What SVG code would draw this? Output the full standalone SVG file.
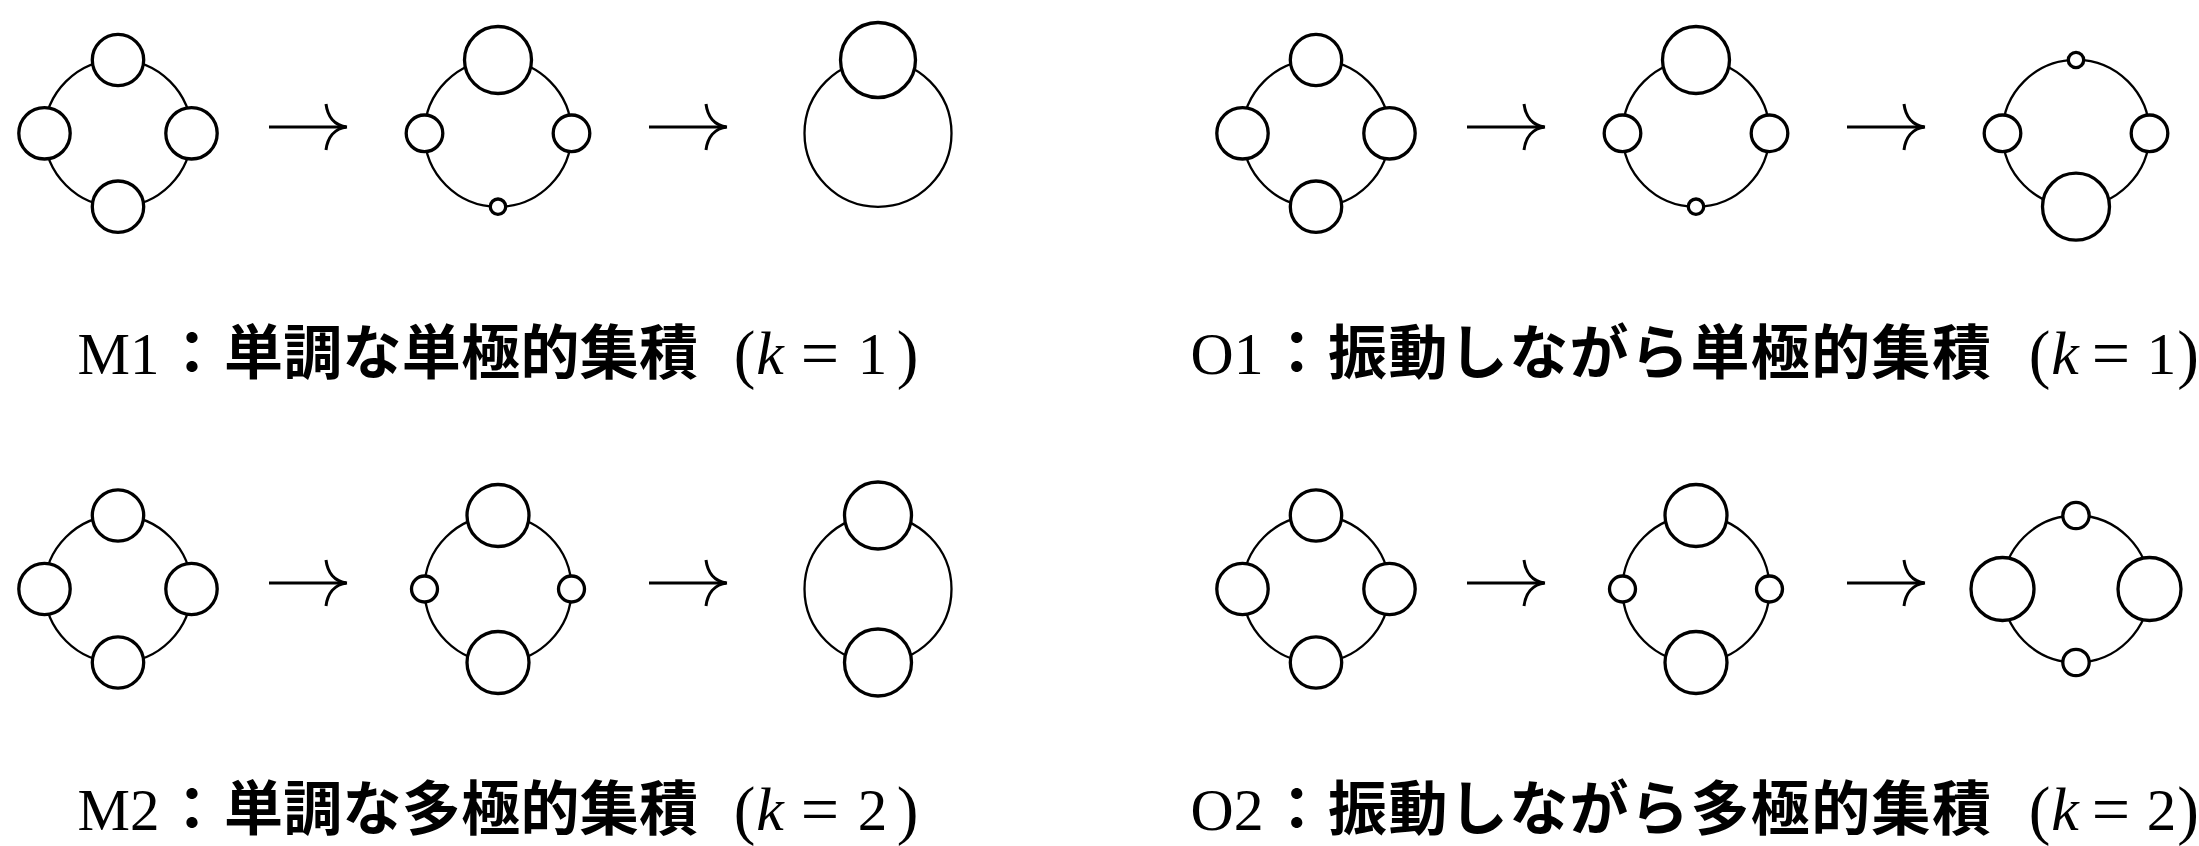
<svg xmlns="http://www.w3.org/2000/svg" xmlns:xlink="http://www.w3.org/1999/xlink" width="2199" height="846" viewBox="0 0 2199 846">
<style>
.ring{fill:none;stroke:#000;stroke-width:2.3}
.nd{fill:#fff;stroke:#000;stroke-width:3.3}
.arr{fill:none;stroke:#000;stroke-width:3}
.lat{font-family:"Liberation Serif",serif;font-size:59px;fill:#000}
.math{font-family:"Liberation Serif",serif;font-size:59px;fill:#000;text-anchor:middle}
.par{font-size:65px}
.eq{font-size:68px}
.it{font-style:italic;font-size:62px}
.jp{font-family:"Noto Sans CJK JP","Noto Sans CJK SC",sans-serif;font-weight:700;font-size:59px;fill:#000}
</style>
<defs>
<g id="arrow">
<path class="arr" d="M0,0 H77"/>
<path class="arr" d="M57,-23 C58.5,-11 65,-1.5 78,0 M57,23 C58.5,11 65,1.5 78,0"/>
</g>
</defs>
<rect width="2199" height="846" fill="#fff"/>

<g id="connectors">
<use xlink:href="#arrow" x="269" y="127"/>
<use xlink:href="#arrow" x="649" y="127"/>
<use xlink:href="#arrow" x="1467" y="127"/>
<use xlink:href="#arrow" x="1847" y="127"/>
<use xlink:href="#arrow" x="269" y="583"/>
<use xlink:href="#arrow" x="649" y="583"/>
<use xlink:href="#arrow" x="1467" y="583"/>
<use xlink:href="#arrow" x="1847" y="583"/>
</g>

<g id="M1-a">
<circle class="ring" cx="118" cy="133.3" r="73.5"/>
<circle class="nd" cx="118" cy="60" r="25.7"/>
<circle class="nd" cx="44.5" cy="133.3" r="25.7"/>
<circle class="nd" cx="191.5" cy="133.3" r="25.7"/>
<circle class="nd" cx="118" cy="206.7" r="25.7"/>
</g>
<g id="M1-b">
<circle class="ring" cx="498" cy="133.3" r="73.5"/>
<circle class="nd" cx="498" cy="60" r="33.5"/>
<circle class="nd" cx="424.5" cy="133.3" r="18.3"/>
<circle class="nd" cx="571.5" cy="133.3" r="18.3"/>
<circle class="nd" cx="498" cy="206.7" r="7.7"/>
</g>
<g id="M1-c">
<circle class="ring" cx="878" cy="133.3" r="73.5"/>
<circle class="nd" cx="878" cy="60" r="37.5"/>
</g>
<g id="O1-a">
<circle class="ring" cx="1316" cy="133.3" r="73.5"/>
<circle class="nd" cx="1316" cy="60" r="25.7"/>
<circle class="nd" cx="1242.5" cy="133.3" r="25.7"/>
<circle class="nd" cx="1389.5" cy="133.3" r="25.7"/>
<circle class="nd" cx="1316" cy="206.7" r="25.7"/>
</g>
<g id="O1-b">
<circle class="ring" cx="1696" cy="133.3" r="73.5"/>
<circle class="nd" cx="1696" cy="60" r="33.5"/>
<circle class="nd" cx="1622.5" cy="133.3" r="18.3"/>
<circle class="nd" cx="1769.5" cy="133.3" r="18.3"/>
<circle class="nd" cx="1696" cy="206.7" r="7.7"/>
</g>
<g id="O1-c">
<circle class="ring" cx="2076" cy="133.3" r="73.5"/>
<circle class="nd" cx="2076" cy="60" r="7.7"/>
<circle class="nd" cx="2002.5" cy="133.3" r="18.3"/>
<circle class="nd" cx="2149.5" cy="133.3" r="18.3"/>
<circle class="nd" cx="2076" cy="206.7" r="33.5"/>
</g>

<g id="M2-a">
<circle class="ring" cx="118" cy="589" r="73.5"/>
<circle class="nd" cx="118" cy="515.5" r="25.7"/>
<circle class="nd" cx="44.5" cy="589" r="25.7"/>
<circle class="nd" cx="191.5" cy="589" r="25.7"/>
<circle class="nd" cx="118" cy="662.5" r="25.7"/>
</g>
<g id="M2-b">
<circle class="ring" cx="498" cy="589" r="73.5"/>
<circle class="nd" cx="498" cy="515.5" r="31"/>
<circle class="nd" cx="424.5" cy="589" r="13"/>
<circle class="nd" cx="571.5" cy="589" r="13"/>
<circle class="nd" cx="498" cy="662.5" r="31"/>
</g>
<g id="M2-c">
<circle class="ring" cx="878" cy="589" r="73.5"/>
<circle class="nd" cx="878" cy="515.5" r="33.5"/>
<circle class="nd" cx="878" cy="662.5" r="33.5"/>
</g>
<g id="O2-a">
<circle class="ring" cx="1316" cy="589" r="73.5"/>
<circle class="nd" cx="1316" cy="515.5" r="25.7"/>
<circle class="nd" cx="1242.5" cy="589" r="25.7"/>
<circle class="nd" cx="1389.5" cy="589" r="25.7"/>
<circle class="nd" cx="1316" cy="662.5" r="25.7"/>
</g>
<g id="O2-b">
<circle class="ring" cx="1696" cy="589" r="73.5"/>
<circle class="nd" cx="1696" cy="515.5" r="31"/>
<circle class="nd" cx="1622.5" cy="589" r="13"/>
<circle class="nd" cx="1769.5" cy="589" r="13"/>
<circle class="nd" cx="1696" cy="662.5" r="31"/>
</g>
<g id="O2-c">
<circle class="ring" cx="2076" cy="589" r="73.5"/>
<circle class="nd" cx="2076" cy="515.5" r="13.2"/>
<circle class="nd" cx="2002.5" cy="589" r="31.5"/>
<circle class="nd" cx="2149.5" cy="589" r="31.5"/>
<circle class="nd" cx="2076" cy="662.5" r="13.2"/>
</g>

<g id="label-M1">
<text class="lat" x="77.5" y="374" textLength="82" lengthAdjust="spacingAndGlyphs">M1</text>
<text class="jp" x="192" y="374" text-anchor="middle">：</text>
<text class="jp" x="224" y="374" textLength="474" lengthAdjust="spacing">単調な単極的集積</text>
<text class="math" y="374"><tspan class="par" x="744.5" y="376">(</tspan><tspan class="it" x="770" y="374">k</tspan><tspan class="eq" x="820" y="376">=</tspan><tspan x="872.5" y="374">1</tspan><tspan class="par" x="907.5" y="376">)</tspan></text>
</g>
<g id="label-O1">
<text class="lat" x="1190.5" y="374" textLength="73" lengthAdjust="spacingAndGlyphs">O1</text>
<text class="jp" x="1296.7" y="374" text-anchor="middle">：</text>
<text class="jp" x="1328" y="374" textLength="663" lengthAdjust="spacing">振動しながら単極的集積</text>
<text class="math" y="374"><tspan class="par" x="2039.5" y="376">(</tspan><tspan class="it" x="2065" y="374">k</tspan><tspan class="eq" x="2111" y="376">=</tspan><tspan x="2161.5" y="374">1</tspan><tspan class="par" x="2188" y="376">)</tspan></text>
</g>
<g id="label-M2">
<text class="lat" x="77.5" y="829.5" textLength="82" lengthAdjust="spacingAndGlyphs">M2</text>
<text class="jp" x="192" y="829.5" text-anchor="middle">：</text>
<text class="jp" x="224" y="829.5" textLength="474" lengthAdjust="spacing">単調な多極的集積</text>
<text class="math" y="829.5"><tspan class="par" x="744.5" y="831.5">(</tspan><tspan class="it" x="770" y="829.5">k</tspan><tspan class="eq" x="820" y="831.5">=</tspan><tspan x="872.5" y="829.5">2</tspan><tspan class="par" x="907.5" y="831.5">)</tspan></text>
</g>
<g id="label-O2">
<text class="lat" x="1190.5" y="829.5" textLength="73" lengthAdjust="spacingAndGlyphs">O2</text>
<text class="jp" x="1296.7" y="829.5" text-anchor="middle">：</text>
<text class="jp" x="1328" y="829.5" textLength="663" lengthAdjust="spacing">振動しながら多極的集積</text>
<text class="math" y="829.5"><tspan class="par" x="2039.5" y="831.5">(</tspan><tspan class="it" x="2065" y="829.5">k</tspan><tspan class="eq" x="2111" y="831.5">=</tspan><tspan x="2161.5" y="829.5">2</tspan><tspan class="par" x="2188" y="831.5">)</tspan></text>
</g>
</svg>
